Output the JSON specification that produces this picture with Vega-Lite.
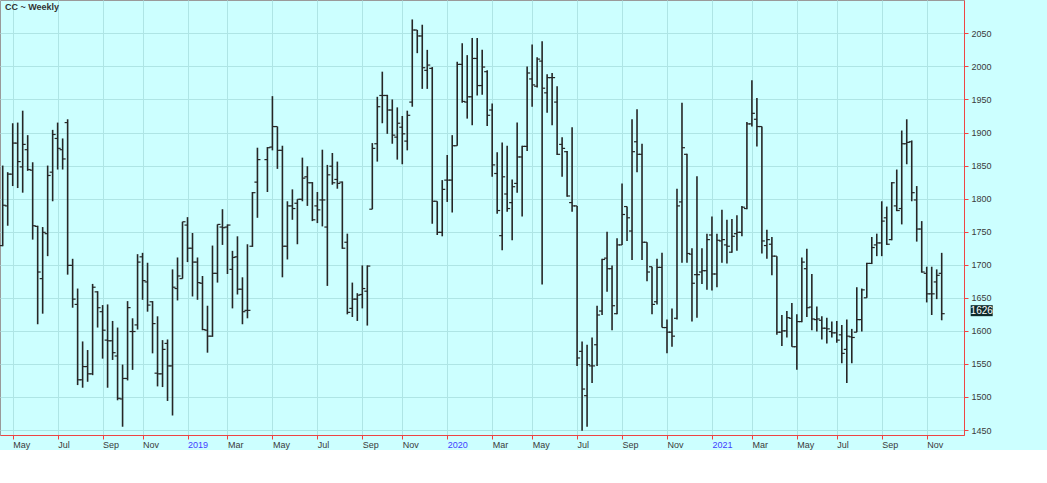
{
"$schema": "https://vega.github.io/schema/vega-lite/v6.json",
"width": 964,
"height": 435,
"autosize": {"type": "none"},
"padding": {"left": 0, "top": 0, "right": 83, "bottom": 15},
"background": "#ccffff",
"config": {"view": {"stroke": "#9a9a9a"}, "font": "Liberation Sans"},
"title": {"text": "CC ~ Weekly", "anchor": "start", "frame": "group", "offset": -12, "dx": 5, "fontSize": 9, "fontWeight": "bold", "color": "#333333", "font": "Liberation Sans"},
"data": {"values": [
{"d":"2018-04-20","o":1729,"h":1850,"l":1728,"c":1790},
{"d":"2018-04-27","o":1789,"h":1840,"l":1759,"c":1837},
{"d":"2018-05-04","o":1837,"h":1914,"l":1819,"c":1884},
{"d":"2018-05-11","o":1884,"h":1915,"l":1816,"c":1856},
{"d":"2018-05-18","o":1848,"h":1933,"l":1809,"c":1882},
{"d":"2018-05-25","o":1874,"h":1896,"l":1842,"c":1844},
{"d":"2018-06-01","o":1843,"h":1855,"l":1738,"c":1759},
{"d":"2018-06-08","o":1758,"h":1759,"l":1610,"c":1689},
{"d":"2018-06-15","o":1679,"h":1757,"l":1626,"c":1749},
{"d":"2018-06-22","o":1747,"h":1850,"l":1713,"c":1835},
{"d":"2018-06-29","o":1840,"h":1904,"l":1796,"c":1897},
{"d":"2018-07-06","o":1891,"h":1915,"l":1844,"c":1876},
{"d":"2018-07-13","o":1874,"h":1891,"l":1844,"c":1860},
{"d":"2018-07-20","o":1915,"h":1920,"l":1685,"c":1699},
{"d":"2018-07-27","o":1699,"h":1709,"l":1635,"c":1648},
{"d":"2018-08-03","o":1640,"h":1664,"l":1518,"c":1526},
{"d":"2018-08-10","o":1526,"h":1584,"l":1514,"c":1546},
{"d":"2018-08-17","o":1546,"h":1571,"l":1523,"c":1535},
{"d":"2018-08-24","o":1535,"h":1671,"l":1533,"c":1666},
{"d":"2018-08-31","o":1659,"h":1660,"l":1605,"c":1635},
{"d":"2018-09-07","o":1629,"h":1639,"l":1558,"c":1601},
{"d":"2018-09-14","o":1586,"h":1640,"l":1514,"c":1585},
{"d":"2018-09-21","o":1585,"h":1615,"l":1556,"c":1567},
{"d":"2018-09-28","o":1562,"h":1605,"l":1495,"c":1498},
{"d":"2018-10-05","o":1497,"h":1549,"l":1455,"c":1528},
{"d":"2018-10-12","o":1528,"h":1645,"l":1525,"c":1635},
{"d":"2018-10-19","o":1599,"h":1619,"l":1541,"c":1599},
{"d":"2018-10-26","o":1609,"h":1716,"l":1602,"c":1704},
{"d":"2018-11-02","o":1712,"h":1718,"l":1647,"c":1676},
{"d":"2018-11-09","o":1674,"h":1703,"l":1629,"c":1639},
{"d":"2018-11-16","o":1644,"h":1645,"l":1566,"c":1611},
{"d":"2018-11-23","o":1536,"h":1622,"l":1516,"c":1535},
{"d":"2018-11-30","o":1535,"h":1586,"l":1515,"c":1572},
{"d":"2018-12-07","o":1581,"h":1587,"l":1494,"c":1547},
{"d":"2018-12-14","o":1547,"h":1693,"l":1472,"c":1666},
{"d":"2018-12-21","o":1664,"h":1711,"l":1646,"c":1683},
{"d":"2018-12-28","o":1679,"h":1765,"l":1679,"c":1765},
{"d":"2019-01-04","o":1760,"h":1772,"l":1704,"c":1725},
{"d":"2019-01-11","o":1725,"h":1748,"l":1652,"c":1704},
{"d":"2019-01-18","o":1704,"h":1711,"l":1647,"c":1673},
{"d":"2019-01-25","o":1672,"h":1683,"l":1601,"c":1602},
{"d":"2019-02-01","o":1601,"h":1638,"l":1567,"c":1592},
{"d":"2019-02-08","o":1592,"h":1729,"l":1591,"c":1687},
{"d":"2019-02-15","o":1687,"h":1761,"l":1673,"c":1761},
{"d":"2019-02-22","o":1757,"h":1784,"l":1730,"c":1756},
{"d":"2019-03-01","o":1757,"h":1761,"l":1686,"c":1760},
{"d":"2019-03-08","o":1693,"h":1721,"l":1634,"c":1711},
{"d":"2019-03-15","o":1712,"h":1743,"l":1655,"c":1663},
{"d":"2019-03-22","o":1663,"h":1681,"l":1610,"c":1629},
{"d":"2019-03-29","o":1631,"h":1731,"l":1619,"c":1631},
{"d":"2019-04-05","o":1728,"h":1810,"l":1727,"c":1809},
{"d":"2019-04-12","o":1825,"h":1877,"l":1771,"c":1859},
{"d":"2019-04-26","o":1859,"h":1878,"l":1810,"c":1877},
{"d":"2019-05-03","o":1878,"h":1955,"l":1873,"c":1909},
{"d":"2019-05-10","o":1909,"h":1909,"l":1845,"c":1873},
{"d":"2019-05-17","o":1873,"h":1880,"l":1681,"c":1728},
{"d":"2019-05-24","o":1728,"h":1796,"l":1708,"c":1789},
{"d":"2019-05-31","o":1789,"h":1814,"l":1768,"c":1785},
{"d":"2019-06-07","o":1793,"h":1799,"l":1731,"c":1799},
{"d":"2019-06-14","o":1799,"h":1862,"l":1796,"c":1831},
{"d":"2019-06-21","o":1833,"h":1849,"l":1789,"c":1824},
{"d":"2019-06-28","o":1824,"h":1825,"l":1766,"c":1768},
{"d":"2019-07-05","o":1789,"h":1810,"l":1763,"c":1783},
{"d":"2019-07-12","o":1798,"h":1874,"l":1758,"c":1798},
{"d":"2019-07-19","o":1757,"h":1851,"l":1668,"c":1836},
{"d":"2019-07-26","o":1849,"h":1869,"l":1821,"c":1824},
{"d":"2019-08-02","o":1829,"h":1856,"l":1815,"c":1823},
{"d":"2019-08-09","o":1825,"h":1826,"l":1724,"c":1725},
{"d":"2019-08-16","o":1734,"h":1747,"l":1625,"c":1628},
{"d":"2019-08-23","o":1634,"h":1673,"l":1621,"c":1648},
{"d":"2019-08-30","o":1648,"h":1657,"l":1615,"c":1654},
{"d":"2019-09-06","o":1655,"h":1699,"l":1634,"c":1664},
{"d":"2019-09-13","o":1660,"h":1699,"l":1608,"c":1698},
{"d":"2019-09-20","o":1784,"h":1884,"l":1784,"c":1876},
{"d":"2019-09-27","o":1883,"h":1954,"l":1856,"c":1939},
{"d":"2019-10-04","o":1956,"h":1992,"l":1914,"c":1956},
{"d":"2019-10-11","o":1956,"h":1957,"l":1898,"c":1934},
{"d":"2019-10-18","o":1934,"h":1950,"l":1883,"c":1896},
{"d":"2019-10-25","o":1893,"h":1938,"l":1859,"c":1914},
{"d":"2019-11-01","o":1908,"h":1925,"l":1852,"c":1898},
{"d":"2019-11-08","o":1887,"h":1933,"l":1873,"c":1926},
{"d":"2019-11-15","o":1946,"h":2071,"l":1939,"c":2055},
{"d":"2019-11-22","o":2055,"h":2055,"l":2020,"c":2046},
{"d":"2019-11-29","o":2046,"h":2063,"l":1966,"c":1998},
{"d":"2019-12-06","o":1994,"h":2025,"l":1966,"c":2002},
{"d":"2019-12-13","o":1997,"h":1999,"l":1762,"c":1796},
{"d":"2019-12-20","o":1796,"h":1796,"l":1745,"c":1749},
{"d":"2019-12-27","o":1749,"h":1828,"l":1743,"c":1814},
{"d":"2020-01-03","o":1828,"h":1866,"l":1795,"c":1828},
{"d":"2020-01-10","o":1828,"h":1896,"l":1779,"c":1880},
{"d":"2020-01-17","o":1880,"h":2007,"l":1880,"c":2003},
{"d":"2020-01-24","o":2003,"h":2035,"l":1945,"c":1947},
{"d":"2020-01-31","o":1946,"h":2017,"l":1921,"c":1954},
{"d":"2020-02-07","o":1954,"h":2043,"l":1911,"c":2012},
{"d":"2020-02-14","o":2012,"h":2043,"l":1956,"c":1971},
{"d":"2020-02-21","o":1971,"h":2025,"l":1957,"c":1999},
{"d":"2020-02-28","o":1992,"h":1994,"l":1910,"c":1926},
{"d":"2020-03-06","o":1934,"h":1944,"l":1833,"c":1851},
{"d":"2020-03-13","o":1838,"h":1870,"l":1777,"c":1782},
{"d":"2020-03-20","o":1744,"h":1885,"l":1722,"c":1833},
{"d":"2020-03-27","o":1807,"h":1880,"l":1780,"c":1785},
{"d":"2020-04-03","o":1794,"h":1829,"l":1737,"c":1818},
{"d":"2020-04-10","o":1823,"h":1915,"l":1809,"c":1863},
{"d":"2020-04-17","o":1863,"h":1880,"l":1773,"c":1879},
{"d":"2020-04-24","o":1879,"h":2000,"l":1872,"c":1990},
{"d":"2020-05-01","o":1981,"h":2033,"l":1939,"c":1972},
{"d":"2020-05-08","o":1970,"h":2014,"l":1968,"c":2011},
{"d":"2020-05-15","o":2008,"h":2038,"l":1670,"c":1967},
{"d":"2020-05-22","o":1960,"h":1988,"l":1930,"c":1983},
{"d":"2020-05-29","o":1983,"h":1990,"l":1911,"c":1983},
{"d":"2020-06-05","o":1946,"h":1970,"l":1866,"c":1867},
{"d":"2020-06-12","o":1882,"h":1893,"l":1833,"c":1876},
{"d":"2020-06-19","o":1871,"h":1872,"l":1803,"c":1804},
{"d":"2020-06-26","o":1794,"h":1908,"l":1780,"c":1789},
{"d":"2020-07-03","o":1789,"h":1789,"l":1547,"c":1559},
{"d":"2020-07-10","o":1569,"h":1584,"l":1449,"c":1512},
{"d":"2020-07-17","o":1502,"h":1579,"l":1455,"c":1549},
{"d":"2020-07-24","o":1547,"h":1590,"l":1521,"c":1547},
{"d":"2020-07-31","o":1579,"h":1638,"l":1547,"c":1624},
{"d":"2020-08-07","o":1630,"h":1709,"l":1624,"c":1708},
{"d":"2020-08-14","o":1710,"h":1750,"l":1659,"c":1694},
{"d":"2020-08-21","o":1694,"h":1699,"l":1601,"c":1638},
{"d":"2020-08-28","o":1626,"h":1740,"l":1625,"c":1730},
{"d":"2020-09-04","o":1730,"h":1823,"l":1730,"c":1776},
{"d":"2020-09-11","o":1788,"h":1788,"l":1736,"c":1771},
{"d":"2020-09-18","o":1751,"h":1920,"l":1707,"c":1871},
{"d":"2020-09-25","o":1886,"h":1935,"l":1840,"c":1867},
{"d":"2020-10-02","o":1867,"h":1883,"l":1707,"c":1734},
{"d":"2020-10-09","o":1734,"h":1734,"l":1675,"c":1689},
{"d":"2020-10-16","o":1697,"h":1697,"l":1625,"c":1640},
{"d":"2020-10-23","o":1644,"h":1709,"l":1640,"c":1696},
{"d":"2020-10-30","o":1696,"h":1718,"l":1605,"c":1605},
{"d":"2020-11-06","o":1605,"h":1617,"l":1566,"c":1598},
{"d":"2020-11-13","o":1598,"h":1634,"l":1576,"c":1592},
{"d":"2020-11-20","o":1619,"h":1815,"l":1617,"c":1789},
{"d":"2020-11-27","o":1795,"h":1945,"l":1703,"c":1877},
{"d":"2020-12-04","o":1867,"h":1868,"l":1703,"c":1717},
{"d":"2020-12-11","o":1716,"h":1725,"l":1614,"c":1672},
{"d":"2020-12-18","o":1685,"h":1834,"l":1620,"c":1685},
{"d":"2020-12-25","o":1689,"h":1725,"l":1671,"c":1691},
{"d":"2021-01-01","o":1691,"h":1747,"l":1662,"c":1738},
{"d":"2021-01-08","o":1745,"h":1773,"l":1661,"c":1686},
{"d":"2021-01-15","o":1686,"h":1747,"l":1666,"c":1737},
{"d":"2021-01-22","o":1736,"h":1783,"l":1703,"c":1738},
{"d":"2021-01-29","o":1730,"h":1768,"l":1702,"c":1728},
{"d":"2021-02-05","o":1719,"h":1769,"l":1718,"c":1743},
{"d":"2021-02-12","o":1747,"h":1775,"l":1721,"c":1749},
{"d":"2021-02-19","o":1749,"h":1789,"l":1743,"c":1787},
{"d":"2021-02-26","o":1785,"h":1916,"l":1784,"c":1913},
{"d":"2021-03-05","o":1913,"h":1979,"l":1909,"c":1929},
{"d":"2021-03-12","o":1920,"h":1952,"l":1879,"c":1909},
{"d":"2021-03-19","o":1909,"h":1909,"l":1717,"c":1736},
{"d":"2021-03-26","o":1729,"h":1753,"l":1709,"c":1738},
{"d":"2021-04-02","o":1731,"h":1742,"l":1684,"c":1713},
{"d":"2021-04-09","o":1713,"h":1713,"l":1594,"c":1598},
{"d":"2021-04-16","o":1598,"h":1624,"l":1577,"c":1600},
{"d":"2021-04-23","o":1600,"h":1630,"l":1590,"c":1620},
{"d":"2021-04-30","o":1619,"h":1642,"l":1576,"c":1576},
{"d":"2021-05-07","o":1576,"h":1625,"l":1541,"c":1614},
{"d":"2021-05-14","o":1614,"h":1711,"l":1613,"c":1704},
{"d":"2021-05-21","o":1694,"h":1724,"l":1621,"c":1635},
{"d":"2021-05-28","o":1636,"h":1686,"l":1601,"c":1618},
{"d":"2021-06-04","o":1617,"h":1637,"l":1599,"c":1618},
{"d":"2021-06-11","o":1616,"h":1622,"l":1587,"c":1604},
{"d":"2021-06-18","o":1604,"h":1620,"l":1581,"c":1603},
{"d":"2021-06-25","o":1599,"h":1614,"l":1590,"c":1597},
{"d":"2021-07-02","o":1597,"h":1615,"l":1582,"c":1586},
{"d":"2021-07-09","o":1594,"h":1609,"l":1551,"c":1566},
{"d":"2021-07-16","o":1572,"h":1617,"l":1521,"c":1592},
{"d":"2021-07-23","o":1591,"h":1603,"l":1551,"c":1590},
{"d":"2021-07-30","o":1598,"h":1666,"l":1598,"c":1617},
{"d":"2021-08-06","o":1617,"h":1664,"l":1599,"c":1662},
{"d":"2021-08-13","o":1650,"h":1703,"l":1650,"c":1702},
{"d":"2021-08-20","o":1702,"h":1742,"l":1701,"c":1726},
{"d":"2021-08-27","o":1730,"h":1747,"l":1713,"c":1733},
{"d":"2021-09-03","o":1733,"h":1796,"l":1713,"c":1766},
{"d":"2021-09-10","o":1771,"h":1788,"l":1730,"c":1731},
{"d":"2021-09-17","o":1738,"h":1825,"l":1737,"c":1824},
{"d":"2021-09-24","o":1789,"h":1844,"l":1781,"c":1782},
{"d":"2021-10-01","o":1785,"h":1903,"l":1761,"c":1883},
{"d":"2021-10-08","o":1883,"h":1920,"l":1852,"c":1885},
{"d":"2021-10-15","o":1886,"h":1888,"l":1796,"c":1809},
{"d":"2021-10-22","o":1798,"h":1819,"l":1735,"c":1754},
{"d":"2021-10-29","o":1754,"h":1766,"l":1688,"c":1689},
{"d":"2021-11-05","o":1687,"h":1697,"l":1643,"c":1656},
{"d":"2021-11-12","o":1656,"h":1697,"l":1624,"c":1656},
{"d":"2021-11-19","o":1674,"h":1693,"l":1648,"c":1684},
{"d":"2021-11-26","o":1687,"h":1718,"l":1616,"c":1626}
]},
"layer": [
{
"mark": {"type": "rule", "color": "#262626", "strokeWidth": 1.6},
"encoding": {
"x": {"field": "d", "type": "temporal", "title": null,
"scale": {"type": "utc", "domain": [{"year": 2018, "month": 4, "date": 16, "hours": 5, "utc": true}, {"year": 2021, "month": 12, "date": 27, "hours": 6, "utc": true}]},
"axis": {
"values": [
{"year": 2018, "month": 5, "date": 4, "utc": true},
{"year": 2018, "month": 7, "date": 6, "utc": true},
{"year": 2018, "month": 9, "date": 7, "utc": true},
{"year": 2018, "month": 11, "date": 2, "utc": true},
{"year": 2019, "month": 1, "date": 4, "utc": true},
{"year": 2019, "month": 3, "date": 1, "utc": true},
{"year": 2019, "month": 5, "date": 3, "utc": true},
{"year": 2019, "month": 7, "date": 5, "utc": true},
{"year": 2019, "month": 9, "date": 6, "utc": true},
{"year": 2019, "month": 11, "date": 1, "utc": true},
{"year": 2020, "month": 1, "date": 3, "utc": true},
{"year": 2020, "month": 3, "date": 6, "utc": true},
{"year": 2020, "month": 5, "date": 1, "utc": true},
{"year": 2020, "month": 7, "date": 3, "utc": true},
{"year": 2020, "month": 9, "date": 4, "utc": true},
{"year": 2020, "month": 11, "date": 6, "utc": true},
{"year": 2021, "month": 1, "date": 8, "utc": true},
{"year": 2021, "month": 3, "date": 5, "utc": true},
{"year": 2021, "month": 5, "date": 7, "utc": true},
{"year": 2021, "month": 7, "date": 2, "utc": true},
{"year": 2021, "month": 9, "date": 3, "utc": true},
{"year": 2021, "month": 11, "date": 5, "utc": true}
],
"tickCount": 40,
"labelExpr": "utcFormat(datum.value, utcmonth(datum.value) == 0 ? '%Y' : '%b')",
"labelAlign": "left",
"labelColor": {"condition": {"test": "utcmonth(datum.value) == 0", "value": "#4040ff"}, "value": "#3a3a3a"},
"labelFont": "Liberation Sans",
"labelFontSize": 9,
"labelPadding": 1,
"labelOverlap": false,
"labelFlush": false,
"domainColor": "#ee4444",
"tickColor": "#ee4444",
"tickSize": 4,
"grid": true,
"gridColor": "#aee5e5"
}
},
"y": {"field": "l", "type": "quantitative", "title": null,
"scale": {"domain": [1442.5, 2100.4], "nice": false, "zero": false},
"axis": {
"orient": "right",
"values": [1450, 1500, 1550, 1600, 1650, 1700, 1750, 1800, 1850, 1900, 1950, 2000, 2050],
"tickCount": 30,
"format": "d",
"labelOverlap": false,
"labelFlush": false,
"domainColor": "#ee4444",
"tickColor": "#ee4444",
"tickSize": 4,
"labelPadding": 3,
"labelFont": "Liberation Sans",
"labelFontSize": 9,
"labelColor": "#3a3a3a",
"grid": true,
"gridColor": "#aee5e5"
}
},
"y2": {"field": "h"}
}
},
{
"mark": {"type": "tick", "orient": "horizontal", "size": 3, "thickness": 1.2, "xOffset": -1.5, "color": "#262626", "opacity": 1},
"encoding": {
"x": {"field": "d", "type": "temporal", "title": null},
"y": {"field": "o", "type": "quantitative", "title": null}
}
},
{
"mark": {"type": "tick", "orient": "horizontal", "size": 3, "thickness": 1.2, "xOffset": 1.5, "color": "#262626", "opacity": 1},
"encoding": {
"x": {"field": "d", "type": "temporal", "title": null},
"y": {"field": "c", "type": "quantitative", "title": null}
}
},
{
"transform": [{"filter": "utcyear(datum.d) == 2021 && utcmonth(datum.d) == 10 && utcdate(datum.d) == 26"}],
"mark": {"type": "point", "shape": "M-1,-0.5H1V0.5H-1Z", "size": 484, "filled": true, "color": "#0f2b2b", "opacity": 1, "xOffset": 40, "yOffset": -3},
"encoding": {
"x": {"field": "d", "type": "temporal", "title": null},
"y": {"field": "c", "type": "quantitative", "title": null}
}
},
{
"transform": [{"filter": "utcyear(datum.d) == 2021 && utcmonth(datum.d) == 10 && utcdate(datum.d) == 26"}],
"mark": {"type": "text", "color": "#ffffff", "fontSize": 10, "font": "Liberation Sans", "align": "center", "baseline": "middle", "xOffset": 40, "yOffset": -3},
"encoding": {
"x": {"field": "d", "type": "temporal", "title": null},
"y": {"field": "c", "type": "quantitative", "title": null},
"text": {"field": "c", "type": "quantitative"}
}
}
]
}
